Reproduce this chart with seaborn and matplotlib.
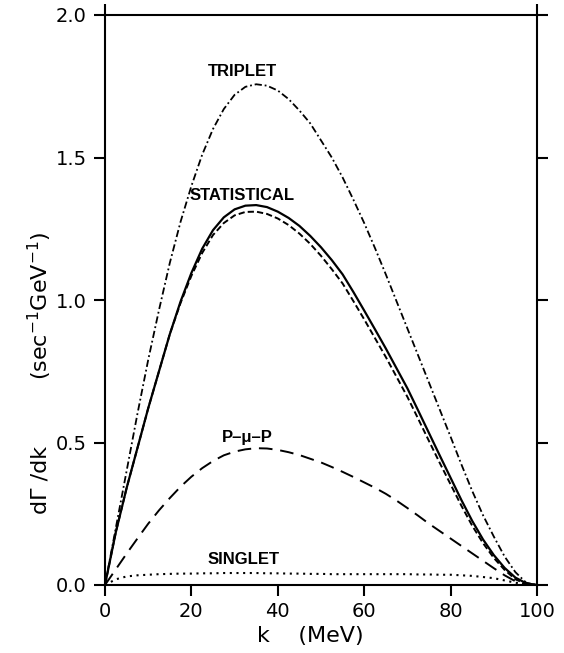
import numpy as np
import pandas as pd
import matplotlib
matplotlib.use("Agg")
import matplotlib.pyplot as plt
import seaborn as sns

# ---- data ----
k_mev = [0, 2.5, 5, 7.5, 10, 12.5, 15, 17.5, 20, 22.5, 25, 27.5, 30, 32.5, 35,
         37.5, 40, 42.5, 45, 47.5, 50, 52.5, 55, 57.5, 60, 62.5, 65, 67.5, 70,
         72.5, 75, 77.5, 80, 82.5, 85, 87.5, 90, 92.5, 95, 97.5, 100]
triplet = [0, 0.20, 0.40, 0.60, 0.79, 0.965, 1.13, 1.275, 1.40, 1.51, 1.60,
           1.67, 1.72, 1.748, 1.757, 1.752, 1.735, 1.705, 1.665, 1.62, 1.56,
           1.50, 1.43, 1.352, 1.27, 1.182, 1.09, 0.995, 0.90, 0.805, 0.71,
           0.615, 0.52, 0.423, 0.33, 0.245, 0.17, 0.10, 0.045, 0.008, 0.0]
statistical = [0, 0.185, 0.34, 0.48, 0.62, 0.75, 0.88, 0.995, 1.095, 1.18,
               1.245, 1.29, 1.318, 1.331, 1.333, 1.326, 1.31, 1.288, 1.26,
               1.225, 1.185, 1.14, 1.09, 1.028, 0.963, 0.897, 0.83, 0.76, 0.69,
               0.612, 0.533, 0.454, 0.376, 0.298, 0.225, 0.16, 0.105, 0.06,
               0.026, 0.006, 0.0]
statistical_alt = [0, 0.185, 0.34, 0.48, 0.62, 0.75, 0.88, 0.99, 1.085, 1.165,
                   1.228, 1.27, 1.297, 1.309, 1.31, 1.302, 1.286, 1.263, 1.233,
                   1.197, 1.155, 1.108, 1.058, 0.996, 0.932, 0.866, 0.80, 0.73,
                   0.66, 0.583, 0.505, 0.428, 0.353, 0.278, 0.208, 0.147, 0.095,
                   0.053, 0.02, 0.003, 0.0]
ppp = [0, 0.055, 0.11, 0.163, 0.215, 0.262, 0.305, 0.345, 0.38, 0.41, 0.435,
       0.455, 0.468, 0.476, 0.48, 0.479, 0.474, 0.466, 0.456, 0.443, 0.43,
       0.414, 0.397, 0.379, 0.36, 0.341, 0.32, 0.296, 0.27, 0.243, 0.215,
       0.189, 0.163, 0.137, 0.111, 0.085, 0.059, 0.034, 0.013, 0.002, 0.0]
singlet = [0, 0.02, 0.03, 0.034, 0.036, 0.038, 0.039, 0.04, 0.04, 0.041, 0.041,
           0.042, 0.042, 0.042, 0.042, 0.041, 0.041, 0.04, 0.04, 0.039, 0.039,
           0.038, 0.038, 0.038, 0.038, 0.038, 0.038, 0.038, 0.038, 0.037,
           0.037, 0.036, 0.036, 0.034, 0.032, 0.028, 0.024, 0.016, 0.008,
           0.002, 0.0]

series_names = ["TRIPLET", "STATISTICAL", "STATISTICAL2", "P-mu-P", "SINGLET"]
series_vals = [triplet, statistical, statistical_alt, ppp, singlet]

x_ticks = [0, 20, 40, 60, 80, 100]
y_ticks = [0.0, 0.5, 1.0, 1.5, 2.0]
y_ticklabels = ["0.0", "0.5", "1.0", "1.5", "2.0"]

# ---- build table ----
rows = []
for name, vals in zip(series_names, series_vals):
    for kk, vv in zip(k_mev, vals):
        rows.append({"k": kk, "v": vv, "series": name})
df = pd.DataFrame(rows)

sns.set_style("ticks")
plt.rcParams["font.family"] = ["DejaVu Sans"]
plt.rcParams["text.color"] = "black"

fig = plt.figure(figsize=(5.64, 6.53), dpi=100)
ax = fig.add_axes([105 / 564, 1 - 585 / 653, 432 / 564, 570 / 653])

dashes = {
    "TRIPLET": (4, 1.6, 1, 1.6),
    "STATISTICAL": "",
    "STATISTICAL2": (3.2, 1.6),
    "P-mu-P": (7, 4),
    "SINGLET": (1, 2.2),
}
palette = {n: "black" for n in series_names}
sizes = {"TRIPLET": 1.3, "STATISTICAL": 1.6, "STATISTICAL2": 1.4,
         "P-mu-P": 1.4, "SINGLET": 1.5}

sns.lineplot(data=df, x="k", y="v", hue="series", style="series",
             size="series", sizes=sizes, dashes=dashes, palette=palette,
             legend=False, ax=ax, sort=False, estimator=None)

ax.set_xlim(0, 100)
ax.set_ylim(0, 2.0)
ax.set_xticks(x_ticks)
ax.set_xticklabels([str(t) for t in x_ticks])
ax.set_yticks(y_ticks)
ax.set_yticklabels(y_ticklabels)
ax.set_xlabel("")
ax.set_ylabel("")

for sp in ax.spines.values():
    sp.set_visible(True)
    sp.set_linewidth(1.5)
    sp.set_color("black")

ax.tick_params(axis="both", direction="out", length=8, width=1.5,
               labelsize=14, colors="black")
ax.tick_params(axis="y", right=True, labelright=False, pad=5)
ax.tick_params(axis="x", pad=4)

# top ticks only at the ends
ax_top = ax.twiny()
ax_top.set_xlim(0, 100)
ax_top.set_xticks([0, 100])
ax_top.set_xticklabels([])
ax_top.tick_params(axis="x", direction="out", length=8, width=1.5, top=True,
                   colors="black")
for sp in ax_top.spines.values():
    sp.set_visible(False)

# axis labels
ax.text(0.475, -0.09, "k    (MeV)", transform=ax.transAxes, ha="center",
        va="center", fontsize=16, color="black")
ax.text(-0.15, 0.184, "d\u0393 /dk", transform=ax.transAxes, ha="center",
        va="center", rotation=90, fontsize=16, color="black")
ax.text(-0.15, 0.49, r"(sec$^{-1}$GeV$^{-1}$)", transform=ax.transAxes,
        ha="center", va="center", rotation=90, fontsize=16, color="black")

# curve labels
lab_font = dict(family=["Liberation Sans Narrow", "Liberation Sans", "DejaVu Sans"],
                fontweight="bold", fontsize=12, ha="center", va="center",
                color="black")
ax.text(31.9, 1.80, "TRIPLET", **lab_font)
ax.text(31.8, 1.368, "STATISTICAL", **lab_font)
ax.text(33.0, 0.516, "P\u2013\u03bc\u2013P", **lab_font)
ax.text(32.0, 0.088, "SINGLET", **lab_font)

fig.savefig("out.png", dpi=100)
